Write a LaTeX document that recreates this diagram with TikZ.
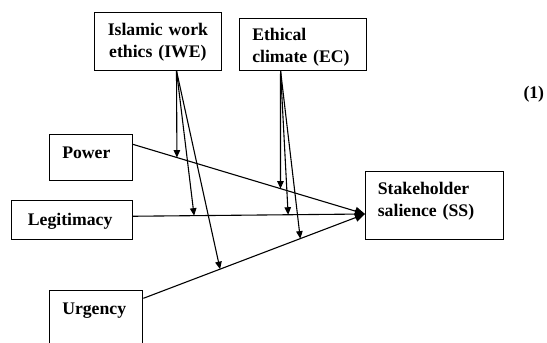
\documentclass[tikz,border=0pt]{standalone}
\usepackage{fontspec}
\setmainfont{Liberation Serif}
\usetikzlibrary{arrows.meta, positioning, calc}
\tikzset{
  factor/.style={draw, line width=1.1pt, font=\fontsize{17.7}{21.5}\selectfont\bfseries,
    inner ysep=0pt, inner xsep=12.4pt, align=left, anchor=north west},
  link/.style={line width=1.1pt, -{Triangle[length=10pt,width=8.5pt]}},
  moderate/.style={line width=1.1pt, -{Triangle[length=7.5pt,width=6.5pt]}}
}

\begin{document}
\begin{tikzpicture}[x=1pt, y=-1pt]
\useasboundingbox (0,0) rectangle (547,343);
% Boxes
\node[factor, align=center, inner xsep=6pt, text width=114.3pt, text height=23.3pt, text depth=34.7pt] (iwe) at (94.2,11.7) {Islamic work\\ethics~(IWE)};
\node[factor, text width=101.6pt, text height=21.7pt, text depth=29.5pt] (ec) at (239.3,18.3) {Ethical\\climate~(EC)};
\node[factor, text width=57.6pt, text height=24pt, text depth=21.7pt] (pw) at (49.3,134.3) {Power};
\node[factor, inner xsep=16.3pt, text width=88.1pt, text height=25pt, text depth=14pt] (lg) at (11,200) {Legitimacy};
\node[factor, text width=68.2pt, text height=24pt, text depth=32pt] (ug) at (49.3,290) {Urgency};
\node[factor, inner xsep=12.3pt, text width=113.7pt, text height=23.3pt, text depth=45pt] (ss) at (365,170.7) {Stakeholder\\salience~(SS)};
\node[font=\fontsize{17.7}{21.5}\selectfont\bfseries, inner sep=0pt, anchor=base west] (eqno) at (523.3,98.3) {(1)};
% Direct paths
\coordinate (hub) at ([yshift=-8.6pt]ss.west);
\coordinate (pwout) at ([yshift=-10pt]pw.north east);
\coordinate (lgout) at ([yshift=3.8pt]lg.east);
\coordinate (ugout) at ([yshift=-8.3pt]ug.north east);
\draw[link] (pwout) -- (hub);
\draw[link] (lgout) -- (hub);
\draw[link] (ugout) -- (hub);
% Moderating effects
\coordinate (iweout) at ([xshift=18.6pt]iwe.south);
\coordinate (ecout) at ([xshift=-22.5pt]ec.south);
\foreach \name/\from/\pos in {ipw/pwout/0.19, ilg/lgout/0.264, iug/ugout/0.346,
                              epw/pwout/0.636, elg/lgout/0.669, eug/ugout/0.708}
  \coordinate (\name) at ($(\from)!\pos!(hub)$);
\foreach \src/\dst in {iweout/ipw, iweout/ilg, iweout/iug, ecout/epw, ecout/elg, ecout/eug}
  \draw[moderate] (\src) -- (\dst);
\end{tikzpicture}
\end{document}
